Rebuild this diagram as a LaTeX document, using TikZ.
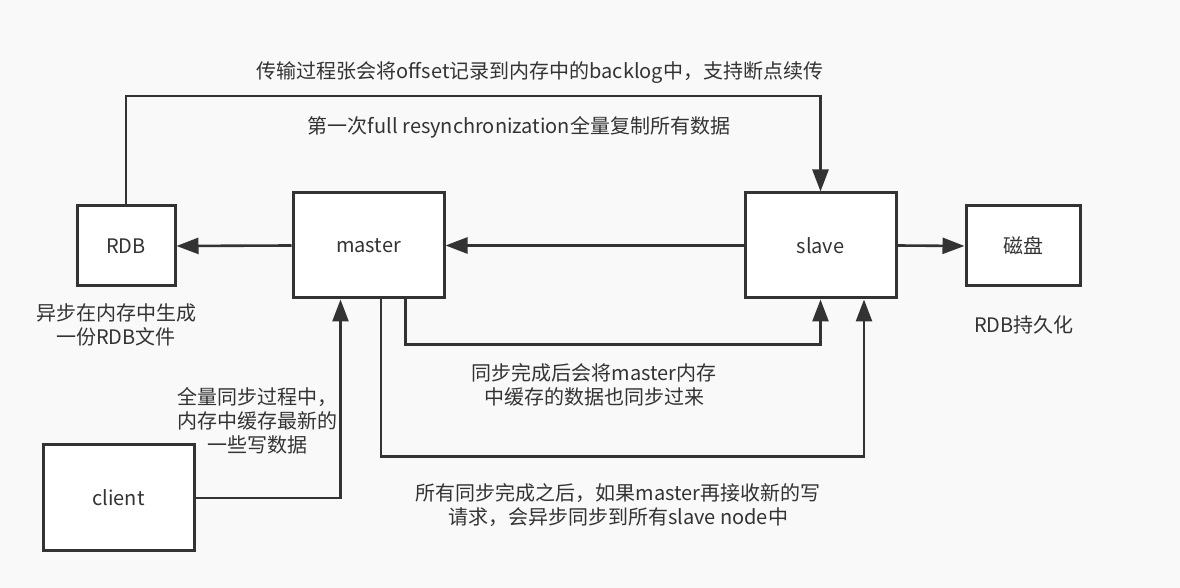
\documentclass[tikz,border=0pt]{standalone}
\usepackage{fontspec}
\setmainfont{Noto Sans CJK SC}
\usepackage{tikz}
\usetikzlibrary{arrows.meta}
\definecolor{bgc}{RGB}{249,249,249}
\definecolor{linec}{RGB}{51,51,51}

\begin{document}
\begin{tikzpicture}[x=1pt,y=1pt,
       box/.style={draw=linec,line width=3pt,fill=white,inner sep=0pt,text=linec},
       arr/.style={draw=linec,line width=2.6pt,-{Triangle[length=22pt,width=16pt]}},
       note/.style={text=linec,align=center,inner sep=0pt}]
       \fontsize{20}{24}\selectfont
       
       %背景
       \fill[bgc] (0,0) rectangle (1180,588);
       \useasboundingbox (0,0) rectangle (1180,588);
       
       %方框
       \node[box,minimum width=98pt,minimum height=80pt] (rdb) at (126,342) {\raisebox{-3pt}{RDB}};
       \node[box,minimum width=151pt,minimum height=105pt] (master) at (368.5,342.5) {\raisebox{-3pt}{master}};
       \node[box,minimum width=151pt,minimum height=105pt] (slave) at (820.5,342.5) {\raisebox{-3pt}{slave}};
       \node[box,minimum width=114pt,minimum height=80pt] (disk) at (1023,342) {\raisebox{-3pt}{磁盘}};
       \node[box,minimum width=151pt,minimum height=106pt] (client) at (118.5,90) {\raisebox{-3pt}{client}};
       
       %连线
       \coordinate (topline) at (0,492);
       \draw[arr] (rdb.north) -- (rdb.north |- topline) -| (slave.north);
       \draw[arr] (master.west) -- (rdb.east);
       \draw[arr] (slave.west) -- (master.east);
       \draw[arr] (slave.east) -- (disk.west);
       \draw[arr] ([xshift=37pt]master.south) -- ++(0,-45) -| (slave.south);
       \draw[arr] ([xshift=12.5pt]master.south) -- ++(0,-157) -| ([xshift=43.5pt]slave.south);
       \draw[arr] (client.east) -| ([xshift=-28pt]master.south);
       
       %文字
       \node[note] (t1) at (540,515) {传输过程张会将offset记录到内存中的backlog中，支持断点续传};
       \node[note] (t2) at (519,461) {第一次full resynchronization全量复制所有数据};
       \node[note] (t3) at (116,263) {异步在内存中生成\\一份RDB文件};
       \node[note] (t4) at (1024,263) {RDB持久化};
       \node[note] (t5) at (594,203) {同步完成后会将master内存\\中缓存的数据也同步过来};
       \node[note] (t6) at (257,167) {全量同步过程中，\\内存中缓存最新的\\一些写数据};
       \node[note] (t7) at (618,83) {所有同步完成之后，如果master再接收新的写\\请求，会异步同步到所有slave node中};
       
\end{tikzpicture}
\end{document}
